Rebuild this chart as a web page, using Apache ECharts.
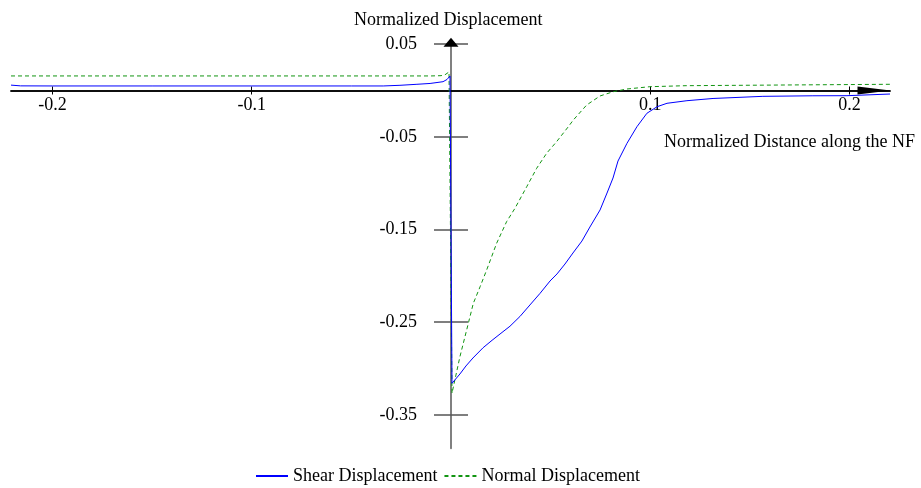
<!DOCTYPE html>
<html>
<head>
<meta charset="utf-8">
<script src="https://cdn.jsdelivr.net/npm/echarts@6/dist/echarts.min.js"></script>
<style>
  html, body { margin: 0; padding: 0; background: #fff; }
  #chart { width: 921px; height: 488px; }
</style>
</head>
<body>
<div id="chart"></div>
<script>
// Shear displacement along the fault (normalized)
const shearX = [-0.2208, -0.216, -0.2, -0.15, -0.1, -0.05, -0.034, -0.0256, -0.0171, -0.0105, -0.004, -0.002, -0.0005,
  0.0005, 0.0045, 0.0075, 0.011, 0.0161, 0.0206, 0.0246, 0.0296, 0.0346, 0.0396, 0.0447, 0.0497, 0.0532, 0.0572,
  0.0612, 0.0657, 0.0697, 0.0748, 0.0783, 0.0813, 0.0838, 0.0883, 0.0933, 0.0983, 0.1034, 0.1084, 0.1184,
  0.1315, 0.1565, 0.1816, 0.1987, 0.2203];
const shearY = [0.0058, 0.005, 0.0049, 0.0049, 0.0049, 0.0049, 0.0049, 0.0056, 0.0067, 0.0076, 0.0095, 0.0119, 0.0156,
  -0.3159, -0.3058, -0.2972, -0.2886, -0.2775, -0.2695, -0.2627, -0.2543, -0.2438, -0.2314, -0.2188, -0.2055, -0.1979, -0.1872,
  -0.1753, -0.1624, -0.1473, -0.1289, -0.1106, -0.0944, -0.0761, -0.057, -0.0391, -0.0246, -0.0175, -0.0138, -0.011,
  -0.0086, -0.0063, -0.0057, -0.0056, -0.0038];

// Normal displacement along the fault (normalized)
const normalX = [-0.2208, -0.1, -0.01, -0.005, -0.003, -0.001,
  0.0005, 0.0045, 0.0079, 0.0112, 0.0146, 0.0179, 0.0229, 0.0279, 0.0321, 0.038, 0.043, 0.048, 0.053, 0.0589,
  0.0614, 0.0681, 0.0748, 0.0814, 0.0882, 0.0998, 0.118, 0.165, 0.2203];
const normalY = [0.0157, 0.0157, 0.0157, 0.016, 0.017, 0.02,
  -0.3266, -0.287, -0.258, -0.2296, -0.2117, -0.1936, -0.1648, -0.1415, -0.1271, -0.1038, -0.0839, -0.0677, -0.0552, -0.039,
  -0.0318, -0.0156, -0.0059, -0.0013, 0.0016, 0.0041, 0.0052, 0.0059, 0.0067];

// Tick labels
const xTicks = [-0.2, -0.1, 0.1, 0.2];
const yTicks = [0.05, -0.05, -0.15, -0.25, -0.35];

const xRange = [-0.2208, 0.2203];
const yRange = [-0.386, 0.052];

const FONT = 'Liberation Serif';
const FS = 18;
const zip = (xs, ys) => xs.map((x, i) => [x, ys[i]]);

// Plot box; the two axes cross at (0, 0) inside it, so each axis is shifted
// from the box edge to the zero of the other axis.
const G = { left: 11, top: 42.3, width: 879, height: 406 };
const zeroX = G.left + (0 - xRange[0]) / (xRange[1] - xRange[0]) * G.width;
const zeroY = G.top + (yRange[1] - 0) / (yRange[1] - yRange[0]) * G.height;
const yAxisShift = -(zeroX - G.left);
const xAxisShift = -(G.top + G.height - zeroY);

const chart = echarts.init(document.getElementById('chart'), null, { renderer: 'canvas' });

const txt = { fontFamily: FONT, fontSize: FS, fontWeight: 'normal', color: '#000' };

chart.setOption({
  animation: false,
  backgroundColor: '#ffffff',
  textStyle: { fontFamily: FONT, color: '#000' },
  title: [
    { text: 'Normalized Displacement', left: 354, top: 11, padding: 0, textStyle: txt },
    { text: 'Normalized Distance along the NF', left: 664, top: 133, padding: 0, textStyle: txt }
  ],
  grid: { left: G.left, top: G.top, width: G.width, height: G.height, containLabel: false, outerBoundsMode: 'none' },
  xAxis: [
    {
      type: 'value', position: 'bottom', offset: xAxisShift, min: xRange[0], max: xRange[1],
      axisLine: {
        onZero: false,
        lineStyle: { color: '#000', width: 1.5 },
        symbol: ['none', 'triangle'], symbolSize: [8, 33], symbolOffset: [0, -16]
      },
      axisTick: { show: true, length: 4, customValues: xTicks, lineStyle: { color: '#000', width: 1 } },
      axisLabel: { customValues: xTicks, margin: 6, fontFamily: FONT, fontSize: FS, color: '#000' },
      splitLine: { show: false }
    },
    {
      type: 'value', position: 'bottom', offset: xAxisShift, min: xRange[0], max: xRange[1],
      axisLine: { onZero: false, lineStyle: { color: '#000', width: 1.5 } },
      axisTick: { show: true, inside: true, length: 4, customValues: xTicks, lineStyle: { color: '#000', width: 1 } },
      axisLabel: { show: false },
      splitLine: { show: false }
    }
  ],
  yAxis: [
    {
      type: 'value', position: 'left', offset: yAxisShift, min: yRange[0], max: yRange[1],
      axisLine: { onZero: false, lineStyle: { color: '#808080', width: 2 } },
      axisTick: { show: true, length: 17, customValues: yTicks, lineStyle: { color: '#555', width: 1.5 } },
      axisLabel: { customValues: yTicks, margin: 34, fontFamily: FONT, fontSize: FS, color: '#000' },
      splitLine: { show: false }
    },
    {
      type: 'value', position: 'left', offset: yAxisShift, min: yRange[0], max: yRange[1],
      axisLine: {
        onZero: false,
        lineStyle: { color: '#000', width: 2, opacity: 0 },
        symbol: ['none', 'triangle'], symbolSize: [15, 9], symbolOffset: [0, 0]
      },
      axisTick: { show: true, inside: true, length: 17, customValues: yTicks, lineStyle: { color: '#555', width: 1.5 } },
      axisLabel: { show: false },
      splitLine: { show: false }
    }
  ],
  legend: {
    top: 462, left: 250,
    itemWidth: 32, itemHeight: 14, itemGap: 6,
    itemStyle: { opacity: 0 },
    textStyle: { fontFamily: FONT, fontSize: FS, color: '#000' },
    data: ['Shear Displacement', 'Normal Displacement']
  },
  series: [
    {
      name: 'Shear Displacement', type: 'line', xAxisIndex: 0, yAxisIndex: 0,
      data: zip(shearX, shearY),
      showSymbol: false, symbol: 'none', smooth: false,
      lineStyle: { color: '#0000ff', width: 1 },
      itemStyle: { color: '#0000ff' },
      z: 3
    },
    {
      name: 'Normal Displacement', type: 'line', xAxisIndex: 0, yAxisIndex: 0,
      data: zip(normalX, normalY),
      showSymbol: false, symbol: 'none', smooth: false,
      lineStyle: { color: '#129512', width: 1, type: [4, 3] },
      itemStyle: { color: '#129512' },
      z: 2
    }
  ]
});
</script>
</body>
</html>
